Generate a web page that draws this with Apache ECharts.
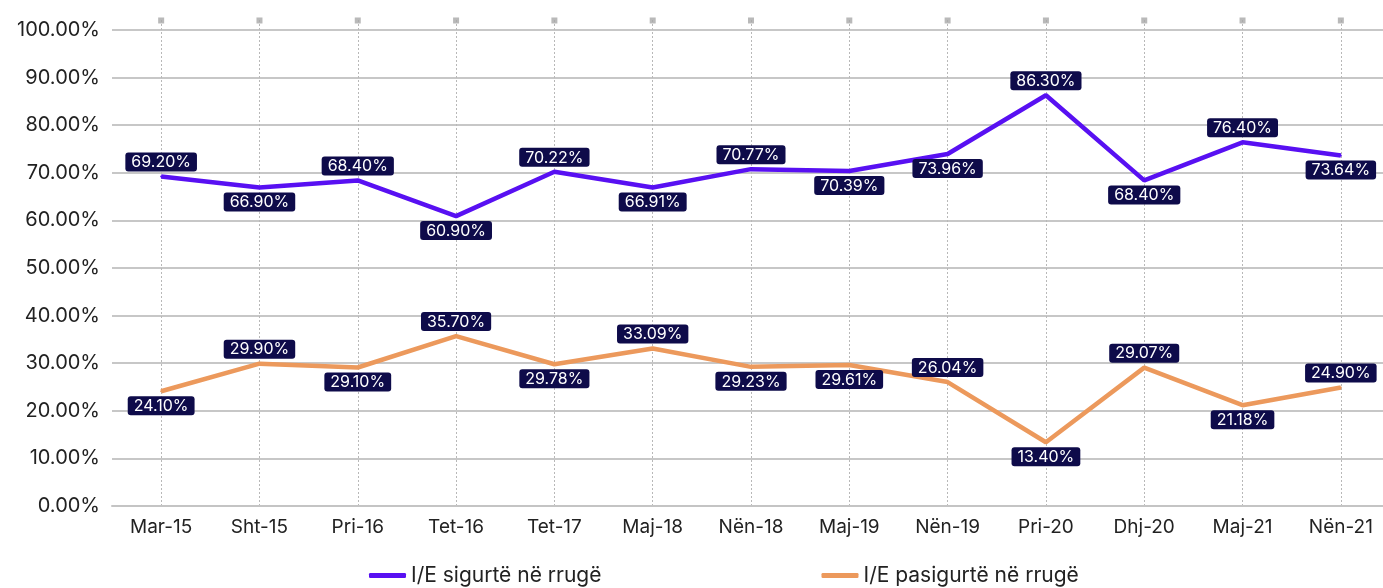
<!DOCTYPE html>
<html>
<head>
<meta charset="utf-8">
<script src="https://cdn.jsdelivr.net/npm/echarts@6/dist/echarts.min.js"></script>
<style>
  html, body { margin: 0; padding: 0; background: #fff; overflow: hidden; }
  /* slightly wider than the window: the last band runs off the right edge */
  #chart { width: 1390px; height: 588px; }
</style>
</head>
<body>
<div id="chart"></div>
<script>
const categories = ['Mar-15', 'Sht-15', 'Pri-16', 'Tet-16', 'Tet-17', 'Maj-18', 'Nën-18', 'Maj-19', 'Nën-19', 'Pri-20', 'Dhj-20', 'Maj-21', 'Nën-21'];
const sigurte = [69.20, 66.90, 68.40, 60.90, 70.22, 66.91, 70.77, 70.39, 73.96, 86.30, 68.40, 76.40, 73.64];
const pasigurte = [24.10, 29.90, 29.10, 35.70, 29.78, 33.09, 29.23, 29.61, 26.04, 13.40, 29.07, 21.18, 24.90];
// where each value label sits
const sigurtePos = ['top', 'bottom', 'top', 'bottom', 'top', 'bottom', 'top', 'bottom', 'bottom', 'top', 'bottom', 'top', 'bottom'];
const pasigurtePos = ['bottom', 'top', 'bottom', 'top', 'bottom', 'top', 'bottom', 'bottom', 'top', 'bottom', 'top', 'bottom', 'top'];
const topMarks = categories.map(() => 102);

const purple = '#5810f2';
const orange = '#ec995c';
const labelBg = '#0e0b4a';
const font = 'Inter, "Open Sans", sans-serif';

function withLabels(values, pos) {
    return values.map((v, i) => ({
        value: v,
        label: { position: pos[i] }
    }));
}

const valueLabel = {
    show: true,
    formatter: p => p.value.toFixed(2) + '%',
    color: '#fff',
    fontFamily: font,
    fontSize: 16,
    backgroundColor: labelBg,
    borderRadius: 3,
    padding: [2, 6, 1, 6],
    distance: 4
};

const chart = echarts.init(document.getElementById('chart'));
chart.setOption({
    animation: false,
    textStyle: { fontFamily: font },
    grid: { left: 112, right: 0, top: 30, bottom: 82, containLabel: false },
    legend: {
        bottom: -3,
        left: 364,
        itemGap: 220,
        itemWidth: 37,
        itemHeight: 5,
        icon: 'roundRect',
        data: ['I/E sigurtë në rrugë', 'I/E pasigurtë në rrugë'],
        textStyle: { fontSize: 21, color: '#222', fontFamily: font }
    },
    xAxis: [{
        type: 'category',
        data: categories,
        boundaryGap: true,
        axisLine: { show: true, lineStyle: { color: '#c4c4c4', width: 2 } },
        axisTick: { show: false },
        axisLabel: { color: '#222', fontSize: 19, margin: 12, fontFamily: font },
        splitLine: { show: false }
    }, {
        type: 'category',
        data: categories,
        position: 'top',
        boundaryGap: true,
        axisLine: { show: false },
        axisLabel: { show: false },
        axisTick: { show: true, alignWithLabel: true, inside: false, length: 10, lineStyle: { color: '#b8b8b8', type: [2, 2] } }
    }],
    yAxis: {
        type: 'value',
        min: 0,
        max: 100,
        interval: 10,
        axisLine: { show: false },
        axisTick: { show: false },
        axisLabel: { color: '#222', fontSize: 20, margin: 12, fontFamily: font, formatter: v => v.toFixed(2) + '%' },
        splitLine: { lineStyle: { color: '#b4b4b4', width: 1.5 } }
    },
    series: [{
        name: 'marks',
        type: 'scatter',
        data: topMarks,
        symbol: 'rect',
        symbolSize: 6,
        clip: false,
        itemStyle: { color: '#a8a8a8' },
        silent: true,
        z: 0,
        markLine: {
            silent: true,
            z: 0,
            symbol: ['none', 'none'],
            label: { show: false },
            lineStyle: { color: '#b8b8b8', type: [2, 2], width: 1 },
            data: categories.map(c => ({ xAxis: c }))
        }
    }, {
        name: 'I/E sigurtë në rrugë',
        type: 'line',
        data: withLabels(sigurte, sigurtePos),
        symbol: 'circle',
        symbolSize: 2,
        showSymbol: true,
        lineStyle: { color: purple, width: 4.5 },
        itemStyle: { color: purple },
        label: valueLabel,
        z: 5
    }, {
        name: 'I/E pasigurtë në rrugë',
        type: 'line',
        data: withLabels(pasigurte, pasigurtePos),
        symbol: 'circle',
        symbolSize: 2,
        showSymbol: true,
        lineStyle: { color: orange, width: 4.5 },
        itemStyle: { color: orange },
        label: valueLabel,
        z: 5
    }]
});
</script>
</body>
</html>
